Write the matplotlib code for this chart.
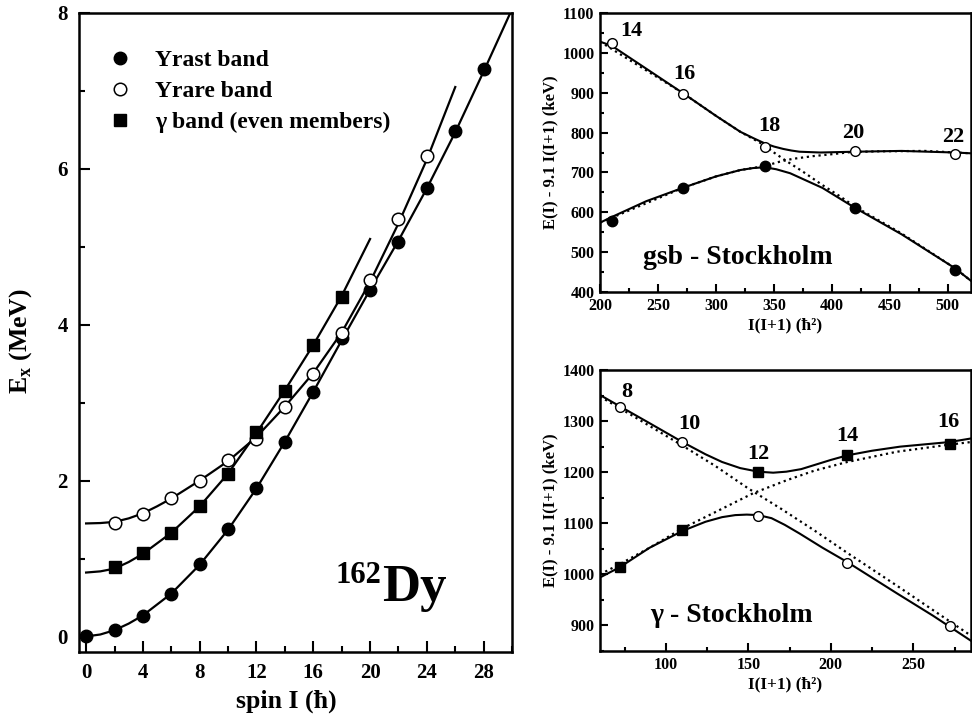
import matplotlib
matplotlib.use("Agg")
import matplotlib.pyplot as plt
from matplotlib.ticker import MultipleLocator

plt.rcParams['font.family'] = ['Liberation Serif', 'DejaVu Serif']
plt.rcParams['font.weight'] = 'bold'
plt.rcParams['mathtext.fontset'] = 'custom'
plt.rcParams['mathtext.rm'] = 'Liberation Serif'
plt.rcParams['mathtext.bf'] = 'Liberation Serif:bold'

# ---- left panel: excitation energies of 162Dy (MeV) ----
yrast_spin = [0, 2, 4, 6, 8, 10, 12, 14, 16, 18, 20, 22, 24, 26, 28]
yrast_e = [0.0, 0.086, 0.26, 0.55, 0.925, 1.385, 1.905, 2.50, 3.14, 3.83, 4.44, 5.06, 5.75, 6.49, 7.28]
yrare_spin = [2, 4, 6, 8, 10, 12, 14, 16, 18, 20, 22, 24]
yrare_e = [1.455, 1.576, 1.777, 1.995, 2.27, 2.53, 2.94, 3.37, 3.90, 4.58, 5.36, 6.16]
gamma_spin = [2, 4, 6, 8, 10, 12, 14, 16, 18]
gamma_e = [0.89, 1.07, 1.33, 1.67, 2.09, 2.62, 3.15, 3.74, 4.35]

# model curves
yrast_fit_spin = [0, 1, 2, 3, 4, 6, 8, 10, 12, 14, 16, 18, 20, 22, 24, 26, 28, 30]
yrast_fit_e = [0.0, 0.025, 0.08, 0.165, 0.27, 0.55, 0.92, 1.37, 1.90, 2.50, 3.14, 3.80, 4.45, 5.08, 5.75, 6.47, 7.25, 8.05]
yrare_fit_spin = [0, 1, 2, 3, 4, 5, 6, 8, 10, 12, 14, 16, 18, 20, 22, 24, 26]
yrare_fit_e = [1.45, 1.455, 1.47, 1.515, 1.58, 1.67, 1.77, 2.00, 2.25, 2.56, 2.95, 3.38, 3.90, 4.55, 5.30, 6.12, 7.05]
gamma_fit_spin = [0, 1, 2, 3, 4, 6, 8, 10, 12, 14, 16, 18, 20]
gamma_fit_e = [0.82, 0.835, 0.87, 0.955, 1.06, 1.33, 1.67, 2.09, 2.61, 3.16, 3.74, 4.37, 5.10]

# ---- top right: gsb crossing, E(I) - 9.1 I(I+1) (keV) ----
gsb_labels = ['14', '16', '18', '20', '22']
gsb_ii = [210, 272, 342, 420, 506]
gsb_open = [1024, 896, 765, 754, 746]
gsb_filled = [578, 662, 717, 610, 455]
gsb_up_x = [200, 210, 240, 272, 300, 321, 333, 342, 350, 358, 365, 372, 390, 420, 460, 506, 520]
gsb_up_y = [1028, 1018, 960, 898, 842, 802, 785, 773, 765, 759, 755, 752, 750, 752, 754, 750, 748]
gsb_lo_x = [200, 210, 240, 272, 300, 321, 332, 342, 352, 364, 392, 420, 460, 506, 520]
gsb_lo_y = [574, 588, 628, 662, 690, 706, 711, 713, 708, 698, 661, 611, 545, 460, 428]
gsb_d1_x = [200, 272, 300, 321, 342, 350, 360, 375, 392, 407, 420, 460, 506, 520]
gsb_d1_y = [1028, 898, 842, 802, 768, 750, 730, 702, 668, 640, 614, 547, 460, 428]
gsb_d2_x = [200, 272, 300, 321, 342, 355, 366, 384, 401, 416, 440, 480, 520]
gsb_d2_y = [574, 662, 690, 706, 716, 727, 734, 741, 746, 751, 753, 754, 748]

# ---- bottom right: gamma band crossing ----
gam_labels = ['8', '10', '12', '14', '16']
gam_ii = [72, 110, 156, 210, 272]
gam_open = [1328, 1259, 1114, 1023, 899]
gam_square = [1014, 1086, 1201, 1233, 1256]
gam_up_x = [60, 72, 90, 110, 124, 134, 145, 156, 165, 173, 182, 190, 200, 210, 225, 242, 272, 285]
gam_up_y = [1351, 1329, 1296, 1259, 1235, 1220, 1208, 1201, 1199, 1201, 1206, 1214, 1224, 1233, 1242, 1250, 1259, 1266]
gam_lo_x = [60, 72, 90, 110, 124, 134, 142, 149, 156, 164, 172, 181, 195, 210, 240, 262, 285]
gam_lo_y = [994, 1014, 1052, 1085, 1103, 1112, 1116, 1117, 1116, 1110, 1097, 1080, 1052, 1024, 963, 919, 870]
gam_d1_x = [60, 80, 110, 130, 150, 170, 190, 210, 240, 262, 285]
gam_d1_y = [1348, 1310, 1252, 1212, 1168, 1128, 1086, 1042, 978, 930, 880]
gam_d2_x = [60, 72, 90, 110, 130, 153, 173, 190, 210, 240, 272, 285]
gam_d2_y = [1000, 1020, 1052, 1090, 1122, 1159, 1184, 1203, 1220, 1240, 1254, 1259]

fig = plt.figure(figsize=(9.72, 7.14), dpi=100)
ax = fig.add_axes([0.0813, 0.0868, 0.4455, 0.895])
ax_top = fig.add_axes([0.6173, 0.591, 0.3817, 0.3908])
ax_bot = fig.add_axes([0.6173, 0.0882, 0.3817, 0.3936])

for a in (ax, ax_top, ax_bot):
    for s in a.spines.values():
        s.set_linewidth(1.8)
    a.tick_params(which='both', direction='in', width=1.5)

# left panel
lw = 1.6
ax.plot(yrast_fit_spin, yrast_fit_e, 'k-', lw=lw)
ax.plot(yrare_fit_spin, yrare_fit_e, 'k-', lw=lw)
ax.plot(gamma_fit_spin, gamma_fit_e, 'k-', lw=lw)
ax.plot(yrast_spin, yrast_e, 'o', color='k', ms=9, ls='none', label='Yrast band')
ax.plot(yrare_spin, yrare_e, 'o', mfc='white', mec='k', mew=1.1, ms=9, ls='none', label='Yrare band')
ax.plot(gamma_spin, gamma_e, 's', color='k', ms=8, ls='none', label='γ band (even members)')
ax.set_xlim(-0.5, 30)
ax.set_ylim(-0.2, 8)
ax.xaxis.set_major_locator(MultipleLocator(4))
ax.xaxis.set_minor_locator(MultipleLocator(2))
ax.yaxis.set_major_locator(MultipleLocator(2))
ax.yaxis.set_minor_locator(MultipleLocator(1))
ax.tick_params(which='major', length=8, labelsize=15, pad=8)
ax.tick_params(which='minor', length=4)
ax.set_xlabel('spin I (ħ)', fontsize=18.5, fontweight='bold')
ax.xaxis.set_label_coords(0.478, -0.058)
ax.set_ylabel(r'E$_{\mathbf{x}}$ (MeV)', fontsize=18.5, fontweight='bold')
ax.yaxis.set_label_coords(-0.105, 0.487)
leg = ax.legend(loc='upper left', bbox_to_anchor=(0.045, 0.957), frameon=False,
                fontsize=17, numpoints=1, handlelength=1.0, handletextpad=1.0,
                labelspacing=0.4, borderaxespad=0)
ax.text(17.6, 0.69, '162', fontsize=22, ha='left', va='baseline')
ax.text(20.86, 0.46, 'Dy', fontsize=38, ha='left', va='baseline')

# top right panel
lw2 = 1.5
ax_top.plot(gsb_d1_x, gsb_d1_y, 'k:', lw=1.6)
ax_top.plot(gsb_d2_x, gsb_d2_y, 'k:', lw=1.6)
ax_top.plot(gsb_up_x, gsb_up_y, 'k-', lw=lw2)
ax_top.plot(gsb_lo_x, gsb_lo_y, 'k-', lw=lw2)
ax_top.plot(gsb_ii, gsb_open, 'o', mfc='white', mec='k', mew=1.0, ms=7, ls='none')
ax_top.plot(gsb_ii, gsb_filled, 'o', color='k', ms=7.5, ls='none')
gsb_label_dx = [17, 1, 4, -2, -1]
gsb_label_dy = [30, 51, 52, 44, 44]
for lab, x, y, dx, dy in zip(gsb_labels, gsb_ii, gsb_open, gsb_label_dx, gsb_label_dy):
    ax_top.text(x + dx, y + dy, lab, fontsize=16, ha='center', va='center')
ax_top.set_xlim(200, 520)
ax_top.set_ylim(400, 1100)
ax_top.xaxis.set_major_locator(MultipleLocator(50))
ax_top.xaxis.set_minor_locator(MultipleLocator(25))
ax_top.yaxis.set_major_locator(MultipleLocator(100))
ax_top.yaxis.set_minor_locator(MultipleLocator(50))
ax_top.tick_params(which='major', length=6, labelsize=11.5, pad=4)
ax_top.tick_params(which='minor', length=3)
ax_top.set_xlabel('I(I+1) (ħ²)', fontsize=12.5, fontweight='bold', labelpad=3)
ax_top.set_ylabel('E(I) - 9.1 I(I+1) (keV)', fontsize=12, fontweight='bold', labelpad=3)
ax_top.text(0.115, 0.125, 'gsb - Stockholm', transform=ax_top.transAxes,
            fontsize=20, ha='left', va='center')

# bottom right panel
ax_bot.plot(gam_d1_x, gam_d1_y, 'k:', lw=1.6)
ax_bot.plot(gam_d2_x, gam_d2_y, 'k:', lw=1.6)
ax_bot.plot(gam_up_x, gam_up_y, 'k-', lw=lw2)
ax_bot.plot(gam_lo_x, gam_lo_y, 'k-', lw=lw2)
ax_bot.plot(gam_ii, gam_open, 'o', mfc='white', mec='k', mew=1.0, ms=7, ls='none')
ax_bot.plot(gam_ii, gam_square, 's', color='k', ms=7, ls='none')
gam_label_y = [1357, 1295, 1235, 1271, 1299]
gam_label_x = [76, 114, 156, 210, 271]
for lab, x, y in zip(gam_labels, gam_label_x, gam_label_y):
    ax_bot.text(x, y, lab, fontsize=16, ha='center', va='center')
ax_bot.set_xlim(60, 285)
ax_bot.set_ylim(850, 1400)
ax_bot.xaxis.set_major_locator(MultipleLocator(50))
ax_bot.xaxis.set_minor_locator(MultipleLocator(25))
ax_bot.yaxis.set_major_locator(MultipleLocator(100))
ax_bot.yaxis.set_minor_locator(MultipleLocator(50))
ax_bot.tick_params(which='major', length=6, labelsize=11.5, pad=4)
ax_bot.tick_params(which='minor', length=3)
ax_bot.set_xlabel('I(I+1) (ħ²)', fontsize=12.5, fontweight='bold', labelpad=3)
ax_bot.set_ylabel('E(I) - 9.1 I(I+1) (keV)', fontsize=12, fontweight='bold', labelpad=3)
ax_bot.text(0.135, 0.128, 'γ - Stockholm', transform=ax_bot.transAxes,
            fontsize=20, ha='left', va='center')

fig.savefig('out.png', dpi=100)
